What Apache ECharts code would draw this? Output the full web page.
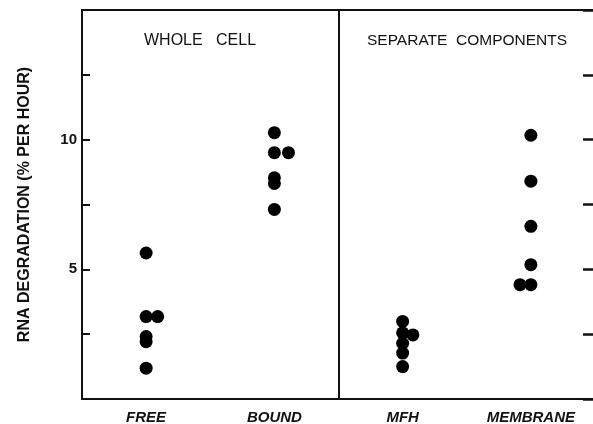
<!DOCTYPE html>
<html>
<head>
<meta charset="utf-8">
<script src="https://cdn.jsdelivr.net/npm/echarts@6/dist/echarts.min.js"></script>
<style>
html,body{margin:0;padding:0;background:#fff;}
#chart{width:593px;height:424px;}
</style>
</head>
<body>
<div id="chart"></div>
<script>
const categories = ['FREE', 'BOUND', 'MFH', 'MEMBRANE'];
const panelTitles = ['WHOLE   CELL', 'SEPARATE  COMPONENTS'];
const yAxisTitle = 'RNA DEGRADATION (% PER HOUR)';
const yTickLabels = [5, 10];

// values (% per hour) and small horizontal jitter (in category widths) for overlapping dots
const freeValues = [5.63, 3.18, 3.18, 2.41, 2.21, 1.19];
const freeJitter = [0, 0, 0.09, 0, 0, 0];
const boundValues = [10.27, 9.50, 9.50, 8.53, 8.31, 7.31];
const boundJitter = [0, 0, 0.11, 0, 0, 0];
const mfhValues = [2.99, 2.55, 2.47, 2.15, 1.77, 1.25];
const mfhJitter = [0, 0, 0.08, 0, 0, 0];
const membraneValues = [10.17, 8.40, 6.66, 5.18, 4.41, 4.41];
const membraneJitter = [0, 0, 0, 0, -0.085, 0];

const groups = [
  [freeValues, freeJitter],
  [boundValues, boundJitter],
  [mfhValues, mfhJitter],
  [membraneValues, membraneJitter]
];

const points = [];
groups.forEach(function (g, i) {
  g[0].forEach(function (v, k) {
    points.push([i + 0.5 + g[1][k], v]);
  });
});

const ink = '#111';
const chart = echarts.init(document.getElementById('chart'), null, {renderer: 'canvas'});
chart.setOption({
  animation: false,
  backgroundColor: '#fff',
  title: [
    {text: panelTitles[0], left: 139, top: 28,
     textStyle: {fontFamily: 'Liberation Sans', fontSize: 16, fontWeight: 'normal', color: ink}},
    {text: panelTitles[1], left: 362, top: 28,
     textStyle: {fontFamily: 'Liberation Sans', fontSize: 15.5, fontWeight: 'normal', color: ink}}
  ],
  grid: {left: 82, top: 10, width: 513, height: 389, outerBoundsMode: 'none', containLabel: false,
         show: true, borderColor: ink, borderWidth: 2, backgroundColor: 'transparent'},
  xAxis: {
    type: 'value', min: 0, max: categories.length, interval: 0.5,
    axisLine: {show: true, lineStyle: {color: ink, width: 2}},
    axisTick: {show: false},
    splitLine: {show: false},
    axisLabel: {
      margin: 11,
      color: ink, fontFamily: 'Liberation Sans', fontSize: 15, fontWeight: 'bold', fontStyle: 'italic',
      formatter: function (v) {
        const i = Math.floor(v);
        return (v - i === 0.5 && categories[i]) ? categories[i] : '';
      }
    }
  },
  yAxis: [
    {
      type: 'value', min: 0, max: 15, interval: 2.5,
      name: yAxisTitle, nameLocation: 'middle', nameGap: 49, nameRotate: 90,
      nameTextStyle: {color: ink, fontFamily: 'Liberation Sans', fontSize: 16, fontWeight: 'bold'},
      axisLine: {show: true, lineStyle: {color: ink, width: 2}},
      axisTick: {show: true, inside: true, length: 8, lineStyle: {color: ink, width: 2}},
      splitLine: {show: false},
      axisLabel: {
        margin: 5, color: ink, fontFamily: 'Liberation Sans', fontSize: 15, fontWeight: 'bold',
        formatter: function (v) { return yTickLabels.indexOf(v) >= 0 ? String(v) : ''; }
      }
    },
    {
      type: 'value', position: 'right', min: 0, max: 15, interval: 2.5,
      axisLine: {show: false},
      axisTick: {show: true, inside: true, length: 12, lineStyle: {color: ink, width: 2.5}},
      axisLabel: {show: false},
      splitLine: {show: false}
    }
  ],
  series: [{
    type: 'scatter',
    data: points,
    symbol: 'circle',
    symbolSize: 13,
    itemStyle: {color: '#000', opacity: 1},
    markLine: {
      silent: true, symbol: 'none', label: {show: false},
      lineStyle: {color: ink, width: 2, type: 'solid'},
      data: [{xAxis: 2}]
    }
  }]
});
</script>
</body>
</html>
